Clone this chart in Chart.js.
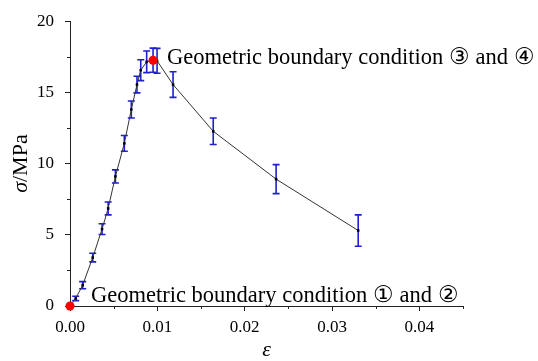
<!DOCTYPE html>
<html>
<head>
<meta charset="utf-8">
<script src="https://cdn.jsdelivr.net/npm/chart.js@4.4.0/dist/chart.umd.min.js"></script>
<style>
  html, body { margin: 0; padding: 0; background: #fff; }
  #wrap { width: 538px; height: 361px; position: relative; }
</style>
</head>
<body>
<div id="wrap"><canvas id="c" width="538" height="361"></canvas></div>
<script>
// ---- data ----
const strain = [0, 0.00065, 0.00145, 0.0026, 0.00367, 0.00437, 0.0052, 0.00622, 0.00702, 0.00767, 0.0081, 0.00878, 0.00951, 0.00997, 0.0118, 0.0164, 0.0236, 0.0330];
const stress = [0, 0.53, 1.46, 3.4, 5.4, 6.85, 9.1, 11.42, 13.8, 15.55, 16.56, 17.15, 17.26, 17.22, 15.55, 12.27, 8.91, 5.3];
const stressErr = [0, 0.15, 0.25, 0.3, 0.38, 0.45, 0.46, 0.55, 0.6, 0.58, 0.73, 0.76, 0.85, 0.87, 0.9, 0.93, 1.02, 1.1];
const markedStrain = [0, 0.00951];
const markedStress = [0, 17.26];
const xTicks = [0, 0.01, 0.02, 0.03, 0.04];
const yTicks = [0, 5, 10, 15, 20];
const xMinorTicks = [0.005, 0.015, 0.025, 0.035, 0.045];
const yMinorTicks = [2.5, 7.5, 12.5, 17.5];
const labelTop = "Geometric boundary condition \u2462 and \u2463";
const labelBottom = "Geometric boundary condition \u2460 and \u2461";
const yTitleItalic = "\u03c3";
const yTitleRest = "/MPa";
const xTitle = "\u03b5";

const SERIF = "'Liberation Serif', 'Times New Roman', 'DejaVu Serif', serif";

const mainData = strain.map((x, i) => ({ x: x, y: stress[i] }));
const markedData = markedStrain.map((x, i) => ({ x: x, y: markedStress[i] }));

const extras = {
  id: 'extras',
  beforeDatasetsDraw(chart) {
    const ctx = chart.ctx, xs = chart.scales.x, ys = chart.scales.y;
    ctx.save();
    ctx.strokeStyle = '#1f1fd0';
    ctx.lineWidth = 1.6;
    const cap = 3.5;
    strain.forEach((x, i) => {
      const e = stressErr[i];
      if (!e) return;
      const px = xs.getPixelForValue(x);
      const y1 = ys.getPixelForValue(stress[i] - e);
      const y2 = ys.getPixelForValue(stress[i] + e);
      ctx.beginPath();
      ctx.moveTo(px, y1); ctx.lineTo(px, y2);
      ctx.moveTo(px - cap, y1); ctx.lineTo(px + cap, y1);
      ctx.moveTo(px - cap, y2); ctx.lineTo(px + cap, y2);
      ctx.stroke();
    });
    ctx.restore();
  },
  afterDraw(chart) {
    const ctx = chart.ctx, xs = chart.scales.x, ys = chart.scales.y, a = chart.chartArea;
    ctx.save();
    // minor ticks
    ctx.strokeStyle = '#222';
    ctx.lineWidth = 1;
    ctx.beginPath();
    xMinorTicks.forEach(v => {
      const px = Math.round(xs.getPixelForValue(v)) + 0.5;
      ctx.moveTo(px, a.bottom); ctx.lineTo(px, a.bottom + 3);
    });
    yMinorTicks.forEach(v => {
      const py = Math.round(ys.getPixelForValue(v)) + 0.5;
      ctx.moveTo(a.left, py); ctx.lineTo(a.left - 3, py);
    });
    ctx.stroke();

    // annotations
    ctx.fillStyle = '#000';
    ctx.font = '22.5px ' + SERIF;
    ctx.textBaseline = 'middle';
    ctx.textAlign = 'left';
    ctx.fillText(labelTop, xs.getPixelForValue(markedStrain[1]) + 14, ys.getPixelForValue(markedStress[1]) - 2);
    ctx.fillText(labelBottom, xs.getPixelForValue(markedStrain[0]) + 21, ys.getPixelForValue(markedStress[0]) - 10);

    // x title
    ctx.font = 'italic 22px ' + SERIF;
    ctx.textAlign = 'center';
    ctx.fillText(xTitle, (a.left + a.right) / 2, 350);

    // y title (rotated)
    ctx.translate(21, (a.top + a.bottom) / 2);
    ctx.rotate(-Math.PI / 2);
    ctx.font = 'italic 22px ' + SERIF;
    const w1 = ctx.measureText(yTitleItalic).width;
    ctx.font = '22px ' + SERIF;
    const w2 = ctx.measureText(yTitleRest).width;
    const start = -(w1 + w2) / 2;
    ctx.textAlign = 'left';
    ctx.font = 'italic 22px ' + SERIF;
    ctx.fillText(yTitleItalic, start, 0);
    ctx.font = '22px ' + SERIF;
    ctx.fillText(yTitleRest, start + w1, 0);
    ctx.restore();
  }
};

new Chart(document.getElementById('c'), {
  type: 'scatter',
  data: {
    datasets: [
      {
        data: markedData,
        showLine: false,
        clip: false,
        pointStyle: 'circle',
        pointRadius: 4.5,
        pointBackgroundColor: '#ff0000',
        pointBorderColor: '#ff0000',
        pointBorderWidth: 0,
        order: 0
      },
      {
        data: mainData,
        showLine: true,
        clip: false,
        borderColor: '#333',
        borderWidth: 1,
        tension: 0,
        pointStyle: 'rect',
        pointRadius: 1.8,
        pointBackgroundColor: '#000',
        pointBorderColor: '#000',
        pointBorderWidth: 0,
        order: 1
      }
    ]
  },
  options: {
    responsive: false,
    animation: false,
    devicePixelRatio: 1,
    layout: { padding: { top: 18, right: 75, left: 0, bottom: 0 } },
    plugins: { legend: { display: false }, tooltip: { enabled: false } },
    scales: {
      x: {
        type: 'linear',
        min: 0, max: 0.045,
        afterBuildTicks(s) { s.ticks = xTicks.map(v => ({ value: v })); },
        afterFit(s) { s.height = 55; },
        ticks: {
          font: { family: SERIF, size: 17 },
          color: '#000',
          padding: 6,
          maxRotation: 0,
          callback: v => Number(v).toFixed(2)
        },
        grid: { drawOnChartArea: false, drawTicks: true, tickLength: 5, color: '#222' },
        border: { color: '#222', width: 1 }
      },
      y: {
        type: 'linear',
        min: 0, max: 20,
        afterBuildTicks(s) { s.ticks = yTicks.map(v => ({ value: v })); },
        afterFit(s) { s.width = 70; },
        ticks: {
          font: { family: SERIF, size: 17 },
          color: '#000',
          padding: 11,
          callback: v => String(v)
        },
        grid: { drawOnChartArea: false, drawTicks: true, tickLength: 5, color: '#222' },
        border: { color: '#222', width: 1 }
      }
    }
  },
  plugins: [extras]
});
</script>
</body>
</html>
